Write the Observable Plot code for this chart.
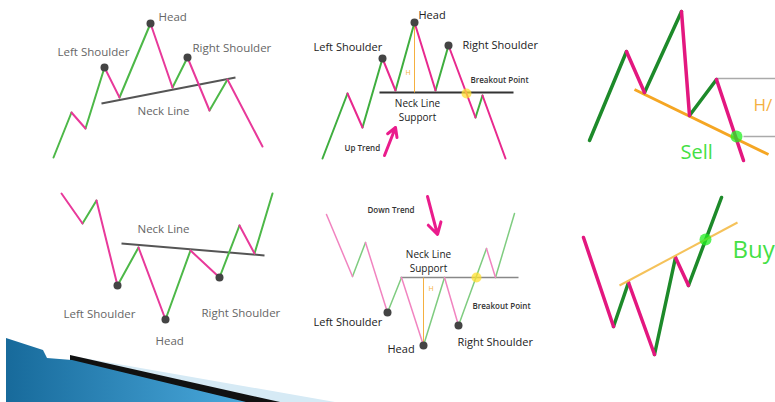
<!DOCTYPE html>
<html><head><meta charset="utf-8">
<script src="https://cdn.jsdelivr.net/npm/d3@7"></script>
<script src="https://cdn.jsdelivr.net/npm/@observablehq/plot@0.6"></script>
<style>html,body{margin:0;padding:0;background:#fff;overflow:hidden}</style>
</head><body><div id="chart"></div>
<script>
// ---- pattern vertices (picture coordinates) ----
const p1x = [53, 71, 85, 104, 119, 150, 172, 187, 209, 227, 262];
const p1y = [157, 112, 128, 67, 97, 23, 87, 57, 110, 79, 146];
const p2x = [322, 347, 362, 382, 395, 414, 435, 448, 475, 482, 505];
const p2y = [158, 93, 127, 58, 90, 22, 90, 45, 117, 95, 158];
const p3x = [589, 626, 644, 681, 689, 716, 743];
const p3y = [140, 51, 92, 11, 115, 79, 160];
const p4x = [61, 82, 96, 117, 138, 165, 190, 219, 239, 254, 272];
const p4y = [193, 223, 200, 285, 247, 319, 250, 277, 225, 253, 193];
const p5x = [326, 352, 365, 387, 401, 423, 444, 458, 486, 495, 514];
const p5y = [214, 276, 242, 312, 277, 345, 277, 325, 248, 277, 213];
const p6x = [583, 613, 628, 654, 675, 688, 721];
const p6y = [237, 326, 282, 354, 257, 285, 197];

// neck lines [x1,y1,x2,y2]
const neck1 = [101, 103, 235, 77];
const neck2 = [379, 92, 513, 92];
const neck3 = [634, 89, 768, 154];
const neck4 = [121, 243, 264, 255];
const neck5 = [400, 277, 518, 277];
const neck6 = [619, 285, 737, 222];

// labels
const grayText = ["Head", "Left Shoulder", "Right Shoulder", "Neck Line", "Neck Line", "Left Shoulder", "Head", "Right Shoulder"];
const grayX = [158, 57, 192, 137, 137, 63, 155, 201];
const grayY = [17, 52, 48, 111, 229, 314, 341, 313];
const darkText = ["Head", "Left Shoulder", "Right Shoulder", "Left Shoulder", "Head", "Right Shoulder"];
const darkX = [418, 313, 462, 313, 387, 457];
const darkY = [15, 47, 45, 322, 349, 342];
const neckText = ["Neck Line", "Support", "Neck Line", "Support"];
const neckX = [417, 417, 428, 428];
const neckY = [103, 117, 254, 268];
const smallText = ["Breakout Point", "Up Trend", "Down Trend", "Breakout Point"];
const smallX = [470, 344, 367, 472];
const smallY = [80, 148, 210, 306];

const segs = (xs, ys) => xs.slice(1).map((x, i) => ({x1: xs[i], y1: ys[i], x2: x, y2: ys[i + 1], up: ys[i + 1] < ys[i]}));
const lineOf = (a) => [{x1: a[0], y1: a[1], x2: a[2], y2: a[3]}];
const zipL = (t, x, y) => t.map((s, i) => ({t: s, x: x[i], y: y[i]}));

function zig(xs, ys, green, pink, w) {
  const s = segs(xs, ys);
  return [
    Plot.link(s.filter(d => d.up), {x1: "x1", y1: "y1", x2: "x2", y2: "y2", stroke: green, strokeWidth: w, strokeLinecap: "round"}),
    Plot.link(s.filter(d => !d.up), {x1: "x1", y1: "y1", x2: "x2", y2: "y2", stroke: pink, strokeWidth: w, strokeLinecap: "round"})
  ];
}
const L = (a, o) => Plot.link(lineOf(a), {x1: "x1", y1: "y1", x2: "x2", y2: "y2", ...o});

// decorative corner
const lightX = [72, 335], lightY = [356, 402];
const blackX = [70, 280], blackY = [355, 402];
const blueX = [6, 43, 47, 72, 246], blueY = [338, 350, 358, 360, 402];
const area = (xs, ys, fill) => Plot.areaY(xs.map((x, i) => ({x, y: ys[i]})), {x: "x", y1: "y", y2: () => 402, fill, curve: "linear"});

const dots = [
  [104, 67], [150, 23], [187, 57],
  [382, 58], [414, 22], [448, 45],
  [117, 285], [165, 319], [219, 277],
  [387, 312], [423, 345], [458, 325]
].map(([x, y]) => ({x, y}));

const chart = Plot.plot({
  width: 775, height: 402, margin: 0,
  x: {domain: [0, 775], range: [0, 775], axis: null},
  y: {domain: [0, 402], range: [0, 402], axis: null},
  style: {background: "white", fontFamily: "Open Sans, sans-serif"},
  marks: [
    area(lightX, lightY, "#d6eaf5"),
    area(blackX, blackY, "#111"),
    area(blueX, blueY, "url(#blueGrad)"),
    // neck lines
    L(neck1, {stroke: "#555", strokeWidth: 2}),
    L(neck2, {stroke: "#333", strokeWidth: 2}),
    L(neck4, {stroke: "#555", strokeWidth: 2}),
    L(neck5, {stroke: "#888", strokeWidth: 1.5}),
    // height guides
    L([414, 24, 414, 92], {stroke: "#f5b040", strokeWidth: 1}),
    L([423, 277, 423, 345], {stroke: "#f5b040", strokeWidth: 1}),
    // right side guides
    L([716, 78, 775, 78], {stroke: "#aaa", strokeWidth: 1.5}),
    L([743, 136, 775, 136], {stroke: "#aaa", strokeWidth: 1.5}),
    ...zig(p1x, p1y, "#4db848", "#e8399a", 2),
    ...zig(p2x, p2y, "#3fae3f", "#e8298e", 2),
    ...zig(p4x, p4y, "#4db848", "#e8399a", 2),
    ...zig(p5x, p5y, "#7fcc80", "#f184c0", 1.5),
    L(neck3, {stroke: "#f5a623", strokeWidth: 3}),
    ...zig(p3x, p3y, "#1d8a2a", "#e3177f", 3.5),
    ...zig(p6x, p6y, "#1d8a2a", "#e3177f", 3.5),
    L(neck6, {stroke: "#f5c25a", strokeWidth: 2}),
    Plot.dot(dots, {x: "x", y: "y", r: 4, fill: "#444"}),
    Plot.dot([{x: 466, y: 93}, {x: 476, y: 277}], {x: "x", y: "y", r: 5, fill: "#ffe030", fillOpacity: 0.75}),
    Plot.dot([{x: 736, y: 136}, {x: 705, y: 239}], {x: "x", y: "y", r: 6, fill: "#22ee22", fillOpacity: 0.75}),
    // trend arrows
    Plot.arrow([{x1: 384, y1: 155, x2: 395, y2: 127}], {x1: "x1", y1: "y1", x2: "x2", y2: "y2", stroke: "#ea1c8c", strokeWidth: 3, headLength: 7}),
    Plot.arrow([{x1: 427, y1: 196, x2: 437, y2: 234}], {x1: "x1", y1: "y1", x2: "x2", y2: "y2", stroke: "#ea1c8c", strokeWidth: 3, headLength: 7}),
    // labels
    Plot.text(zipL(grayText, grayX, grayY), {x: "x", y: "y", text: "t", textAnchor: "start", fontSize: 11.5, fill: "#666"}),
    Plot.text(zipL(darkText, darkX, darkY), {x: "x", y: "y", text: "t", textAnchor: "start", fontSize: 11, fill: "#222", letterSpacing: -0.3}),
    Plot.text(zipL(neckText, neckX, neckY), {x: "x", y: "y", text: "t", textAnchor: "middle", fontSize: 10, fill: "#222", letterSpacing: -0.3}),
    Plot.text(zipL(smallText, smallX, smallY), {x: "x", y: "y", text: "t", textAnchor: "start", fontSize: 8, fill: "#333", fontWeight: 600}),
    Plot.text([{t: "H", x: 405, y: 72}, {t: "H", x: 428, y: 288}], {x: "x", y: "y", text: "t", textAnchor: "start", fontSize: 7, fill: "#f5b040"}),
    Plot.text([{t: "Sell", x: 680, y: 152}], {x: "x", y: "y", text: "t", textAnchor: "start", fontSize: 20, fill: "#44e044"}),
    Plot.text([{t: "Buy", x: 732, y: 250}], {x: "x", y: "y", text: "t", textAnchor: "start", fontSize: 24, fill: "#44e044"}),
    Plot.text([{t: "H/", x: 753, y: 105}], {x: "x", y: "y", text: "t", textAnchor: "start", fontSize: 17, fill: "#f5b040"})
  ]
});
const defs = d3.select(chart).insert("defs", ":first-child");
const g = defs.append("linearGradient").attr("id", "blueGrad").attr("x1", "0%").attr("x2", "100%").attr("y1", "0%").attr("y2", "0%");
g.append("stop").attr("offset", "0%").attr("stop-color", "#176a9b");
g.append("stop").attr("offset", "100%").attr("stop-color", "#4aa9dc");
document.getElementById("chart").append(chart);
</script>
</body></html>
